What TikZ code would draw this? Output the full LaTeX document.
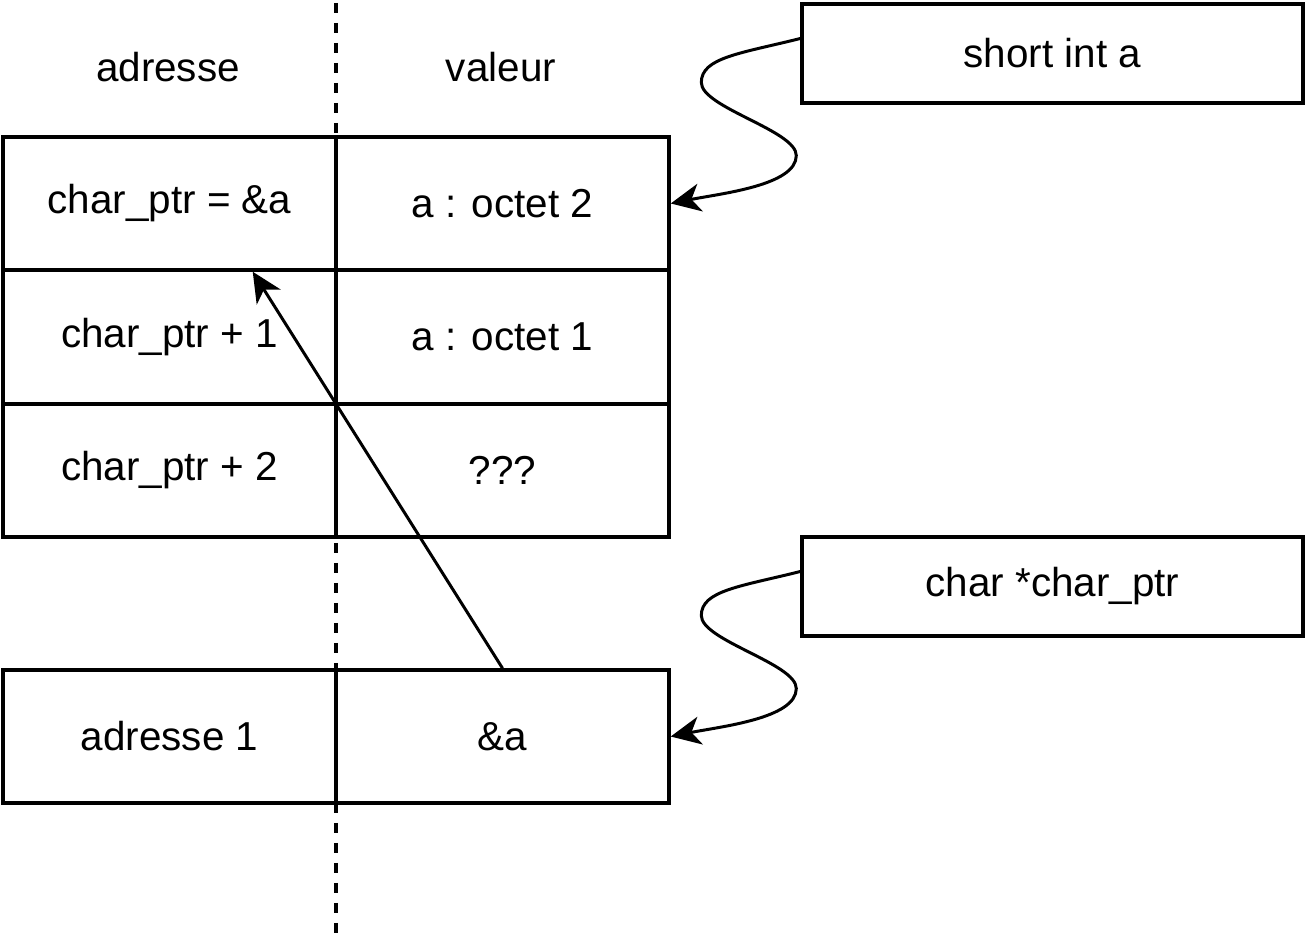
\documentclass[tikz,border=0pt]{standalone}
\usepackage{fontspec}
\setmainfont{Liberation Sans}
\usetikzlibrary{arrows.meta,positioning}

\begin{document}
\begin{tikzpicture}[
    x=0.02cm, y=-0.02cm,
    cell/.style={rectangle, draw, line width=2pt, minimum width=6.66cm, minimum height=2.66cm, inner sep=0pt, font=\fontsize{23}{27}\selectfont},
    label/.style={rectangle, draw, line width=2pt, minimum width=10.02cm, minimum height=1.98cm, inner sep=0pt, font=\fontsize{23}{27}\selectfont},
    head/.style={font=\fontsize{23}{27}\selectfont},
    link/.style={line width=1.7pt, -{Stealth[length=17pt, width=16pt, inset=5pt]}}
]
    \useasboundingbox (0,0) rectangle (1314,946);

    % Separator
    \coordinate (septop) at (336,3);
    \coordinate (sepbot) at (336,935);
    \draw[line width=2pt, dash pattern=on 0.2cm off 0.2cm] (septop) -- (sepbot);

    % Headers
    \node[head] (hadr) at (168,67) {adresse};
    \node[head] (hval) at (501,67) {valeur};

    % Memory cells
    \node[cell] (a1) at (169.5,203.5) {char\_ptr = \&a};
    \node[cell] (v1) at (502.5,203.5) {a : octet 2};
    \node[cell] (a2) at (169.5,337) {char\_ptr + 1};
    \node[cell] (v2) at (502.5,337) {a : octet 1};
    \node[cell] (a3) at (169.5,470.5) {char\_ptr + 2};
    \node[cell] (v3) at (502.5,470.5) {???};

    \node[cell] (a4) at (169.5,736.5) {adresse 1};
    \node[cell] (v4) at (502.5,736.5) {\&a};

    % Variables
    \node[label] (sia) at (1052.5,53.5) {short int a};
    \node[label] (cptr) at (1052.5,586.5) {char *char\_ptr};

    % Arrows
    \draw[link] ([yshift=0.3cm]sia.west) .. controls +(-60,15) and +(0,-25) .. ++(-99,44)
        .. controls +(0,25) and +(0,-25) .. ++(95,73)
        .. controls +(0,30) and +(50,-10) .. (v1.east);
    \draw[link] ([yshift=0.3cm]cptr.west) .. controls +(-60,15) and +(0,-25) .. ++(-99,44)
        .. controls +(0,25) and +(0,-25) .. ++(95,73)
        .. controls +(0,30) and +(50,-10) .. (v4.east);
    \draw[link] (v4.north) -- ([xshift=-1.7cm]a1.south east);

\end{tikzpicture}
\end{document}
